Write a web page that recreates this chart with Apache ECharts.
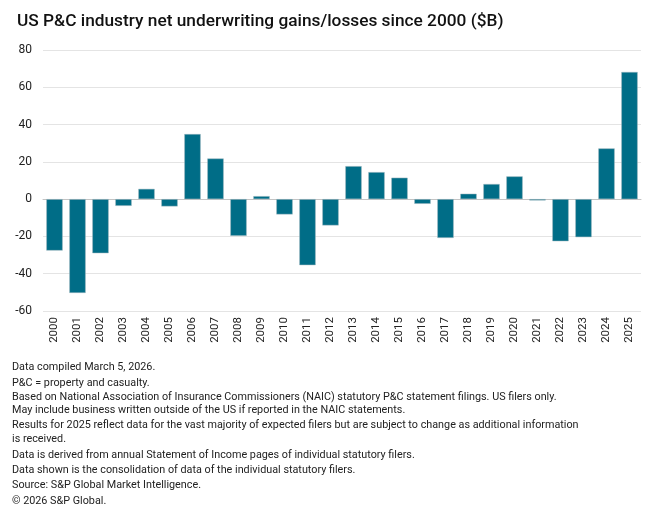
<!DOCTYPE html>
<html>
<head>
<meta charset="utf-8">
<script src="https://cdn.jsdelivr.net/npm/echarts@6/dist/echarts.min.js"></script>
<style>
html,body{margin:0;padding:0;background:#fff;}
#main{width:660px;height:519px;}
</style>
</head>
<body>
<div id="main"></div>
<script>
var years = ['2000','2001','2002','2003','2004','2005','2006','2007','2008','2009','2010','2011','2012','2013','2014','2015','2016','2017','2018','2019','2020','2021','2022','2023','2024','2025'];
var gains = [-27.6,-50.3,-29.0,-3.6,5.5,-3.9,34.9,21.8,-19.7,1.6,-8.2,-35.4,-14.1,17.7,14.5,11.5,-2.5,-20.8,2.9,8.1,12.2,-0.7,-22.6,-20.4,27.2,68.2];
var titleText = 'US P&C industry net underwriting gains/losses since 2000 ($B)';
var notes = [
  'Data compiled March 5, 2026.',
  'P&C = property and casualty.',
  'Based on National Association of Insurance Commissioners (NAIC) statutory P&C statement filings. US filers only.',
  'May include business written outside of the US if reported in the NAIC statements.',
  'Results for 2025 reflect data for the vast majority of expected filers but are subject to change as additional information',
  'is received.',
  'Data is derived from annual Statement of Income pages of individual statutory filers.',
  'Data shown is the consolidation of data of the individual statutory filers.',
  'Source: S&P Global Market Intelligence.',
  '\u00a9 2026 S&P Global.'
];
var noteY = [369,385,399,412,427,441,457,472,487,503];

var font = 'Roboto, "Liberation Sans", Arial, sans-serif';
var chart = echarts.init(document.getElementById('main'), null, {renderer:'canvas'});
var graphics = notes.map(function(t,i){
  return {type:'text', left:12, top:noteY[i]-7, style:{text:t, fill:'#222', font:'10.8px ' + font}};
});
chart.setOption({
  animation:false,
  backgroundColor:'#fff',
  title:{text:titleText, left:12, top:8, textStyle:{fontFamily:font, fontSize:17.3, fontWeight:500, color:'#111'}},
  grid:{left:43, right:19, top:50, bottom:208, containLabel:false},
  xAxis:{
    type:'category', data:years,
    axisLine:{show:true, onZero:true, lineStyle:{color:'#c4c4c4', width:1}},
    axisTick:{show:false},
    axisLabel:{rotate:90, interval:0, margin:6, fontFamily:font, fontSize:11.5, color:'#222'}
  },
  yAxis:{
    type:'value', min:-60, max:80, interval:20,
    axisLine:{show:false}, axisTick:{show:false},
    splitLine:{lineStyle:{color:'#e4e4e4', width:1.2}},
    axisLabel:{margin:11, fontFamily:font, fontSize:12, color:'#222'}
  },
  series:[{
    type:'bar', data:gains, barCategoryGap:'29%',
    itemStyle:{color:'#006d87', borderColor:'#9fb7bf', borderWidth:0.5}
  }],
  graphic:graphics
});
</script>
</body>
</html>
